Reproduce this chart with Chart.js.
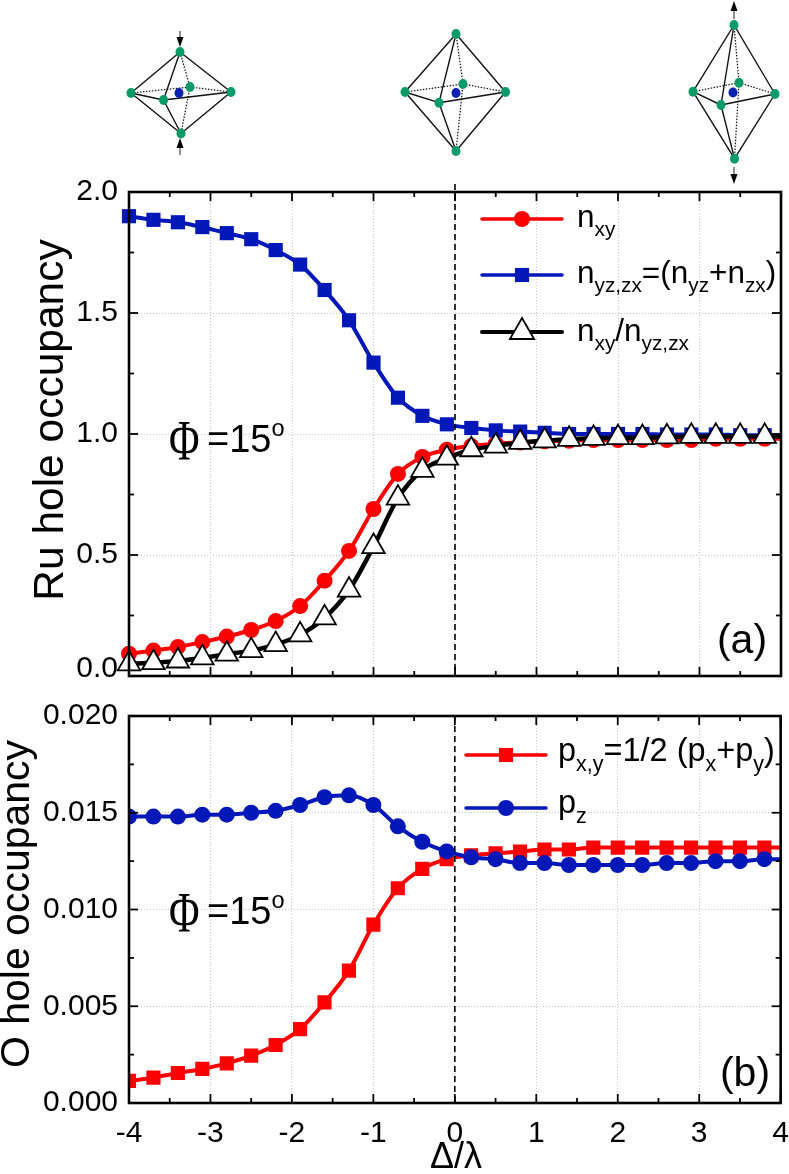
<!DOCTYPE html>
<html><head><meta charset="utf-8">
<style>
html,body{margin:0;padding:0;background:#fff;width:789px;height:1174px;overflow:hidden}
canvas{position:absolute;left:0;display:block}
svg{position:absolute;left:0;top:0;pointer-events:none}
</style>
<script src="https://cdn.jsdelivr.net/npm/chart.js@4/dist/chart.umd.js"></script>
</head><body>
<canvas id="a" width="789" height="700" style="top:0"></canvas>
<canvas id="b" width="789" height="474" style="top:700px"></canvas>
<svg id="oct" width="789" height="192"></svg>
<script>
const deltaOverLambda=[-4,-3.7,-3.4,-3.1,-2.8,-2.5,-2.2,-1.9,-1.6,-1.3,-1,-0.7,-0.4,-0.1,0.2,0.5,0.8,1.1,1.4,1.7,2,2.3,2.6,2.9,3.2,3.5,3.8,4];
const nXY=[0.092,0.105,0.12,0.14,0.163,0.19,0.227,0.289,0.394,0.517,0.69,0.835,0.905,0.935,0.95,0.96,0.965,0.97,0.972,0.975,0.975,0.975,0.975,0.975,0.98,0.98,0.98,0.98];
const nYZZX=[1.9,1.885,1.875,1.855,1.83,1.805,1.76,1.7,1.595,1.47,1.295,1.15,1.075,1.04,1.025,1.015,1.01,1.005,1.0,1.0,1.0,1.0,0.998,0.998,0.998,0.995,0.995,0.995];
const nRatio=[0.05,0.055,0.062,0.075,0.09,0.105,0.13,0.17,0.24,0.355,0.535,0.735,0.85,0.9,0.935,0.95,0.965,0.972,0.978,0.982,0.985,0.985,0.988,0.99,0.99,0.99,0.99,0.99];
const pXY=[0.00114,0.00131,0.00155,0.00176,0.00205,0.00245,0.003,0.00382,0.0052,0.00684,0.00922,0.0111,0.0121,0.0126,0.0128,0.0129,0.013,0.0131,0.0131,0.0132,0.0132,0.0132,0.0132,0.0132,0.0132,0.0132,0.0132,0.0132];
const pZ=[0.0148,0.0148,0.0148,0.0149,0.0149,0.015,0.0151,0.0154,0.0158,0.0159,0.0154,0.0143,0.0135,0.013,0.0127,0.0126,0.0124,0.0124,0.0123,0.0123,0.0123,0.0123,0.0124,0.0124,0.0125,0.0125,0.0126,0.0126];
const RED='#ff0000',BLUE='#0018b8',BLACK='#000000';
const FONT='"Liberation Sans",Arial,sans-serif';
const TICK=30;
const toPts=(ys)=>deltaOverLambda.map((x,i)=>({x,y:ys[i]}));

function runs(ctx,x,y,parts,size){
  ctx.textAlign='left';ctx.textBaseline='alphabetic';ctx.fillStyle='#000';
  for(const [t,k] of parts){
    const s=k==='sub'?size*0.66:k==='sup'?size*0.62:size;
    const dy=k==='sub'?size*0.3:k==='sup'?-size*0.42:0;
    ctx.font=s+'px '+FONT;ctx.fillText(t,x,y+dy);x+=ctx.measureText(t).width;
  }
}
function marker(ctx,kind,x,y,r,fill,stroke,lw){
  ctx.beginPath();
  if(kind==='circle')ctx.arc(x,y,r,0,Math.PI*2);
  if(kind==='rect'){const s=r/Math.SQRT2;ctx.rect(x-s,y-s,2*s,2*s);}
  if(kind==='triangle'){const w=r*Math.sin(Math.PI/3);ctx.moveTo(x,y-r);ctx.lineTo(x+w,y+r/2);ctx.lineTo(x-w,y+r/2);ctx.closePath();}
  ctx.fillStyle=fill;ctx.fill();
  if(lw){ctx.lineWidth=lw;ctx.strokeStyle=stroke;ctx.stroke();}
}
function legendRow(ctx,x0,x1,y,color,lw,kind,r,fill,stroke,mlw){
  ctx.beginPath();ctx.moveTo(x0,y);ctx.lineTo(x1,y);ctx.lineWidth=lw;ctx.strokeStyle=color;ctx.lineCap='round';ctx.stroke();ctx.lineCap='butt';
  marker(ctx,kind,(x0+x1)/2,y,r,fill,stroke,mlw);
}
function framePlugin(cfg){return {id:'frame',afterDatasetsDraw(c){
  const ctx=c.ctx,A=c.chartArea,X=c.scales.x,Y=c.scales.y;
  ctx.save();ctx.setLineDash([]);ctx.strokeStyle='#000';
  const tick=(x1,y1,x2,y2,w)=>{ctx.beginPath();ctx.moveTo(x1,y1);ctx.lineTo(x2,y2);ctx.lineWidth=w;ctx.stroke();};
  for(let v=-4;v<=4.001;v+=0.5){
    const p=X.getPixelForValue(v),L=Math.abs(v%1)<1e-6?9:5;
    tick(p,A.bottom,p,A.bottom-L,1.8);tick(p,A.top,p,A.top+L,1.8);
  }
  for(let i=0;i<=8;i++){
    const v=cfg.ymax*i/8,p=Y.getPixelForValue(v),L=i%2===0?9:5;
    tick(A.left,p,A.left+L,p,1.8);tick(A.right,p,A.right-L,p,1.8);
  }
  const zero=X.getPixelForValue(0);
  ctx.setLineDash([6,4]);tick(zero,A.top-cfg.over,zero,A.bottom,1.6);ctx.setLineDash([]);
  ctx.lineWidth=2.6;ctx.strokeRect(A.left,A.top,A.right-A.left,A.bottom-A.top);
  cfg.draw(ctx,A,X,Y);
  ctx.restore();
}};}
function ylabel(ctx,t,x,y,size){ctx.save();ctx.translate(x,y);ctx.rotate(-Math.PI/2);ctx.font=size+'px '+FONT;ctx.textAlign='center';ctx.textBaseline='alphabetic';ctx.fillStyle='#000';ctx.fillText(t,0,0);ctx.restore();}
function phi(ctx,x,y){
  ctx.save();ctx.fillStyle='#000';ctx.textAlign='left';ctx.textBaseline='alphabetic';
  ctx.translate(x+2,y+8);ctx.scale(0.72,1);
  ctx.font='58px "Liberation Serif",serif';ctx.fillText('Φ',0,0);ctx.restore();
  runs(ctx,x+40,y,[['=15',''],['o','sup']],38);
}
function base(ds,area,opts){return {type:'line',data:{datasets:ds},options:{
  responsive:false,animation:false,events:[],
  layout:{autoPadding:false,padding:{top:area.top,right:area.right,left:0,bottom:0}},
  plugins:{legend:{display:false},tooltip:{enabled:false},title:{display:false}},
  scales:{
    x:{type:'linear',min:-4,max:4,
      afterFit(s){s.height=area.xh;},
      grid:{color:'#c8c8c8',lineWidth:1,drawTicks:true,tickLength:13,tickColor:'transparent',tickWidth:0},border:{display:false,dash:[1,2]},
      ticks:{display:opts.xlabels,stepSize:1,padding:0,color:'#000',maxRotation:0,autoSkip:false,font:{family:'Liberation Sans',size:TICK}}},
    y:{type:'linear',min:0,max:opts.ymax,
      afterFit(s){s.width=129;},
      grid:{color:'#c8c8c8',lineWidth:1,drawTicks:true,tickLength:11,tickColor:'transparent',tickWidth:0},border:{display:false,dash:[1,2]},
      ticks:{stepSize:opts.step,padding:0,color:'#000',autoSkip:false,font:{family:'Liberation Sans',size:TICK,lineHeight:1},callback:opts.fmt}}
  }},plugins:[framePlugin(opts)]};}
const rad=(r)=>(ctx)=>ctx.dataIndex===deltaOverLambda.length-1?0:r;

new Chart(document.getElementById('a'),base([
  {label:'nxy',data:toPts(nXY),borderColor:RED,borderWidth:4,cubicInterpolationMode:'monotone',pointStyle:'circle',pointRadius:rad(8),pointBackgroundColor:RED,pointBorderWidth:0,order:3,clip:false},
  {label:'nyz,zx=(nyz+nzx)',data:toPts(nYZZX),borderColor:BLUE,borderWidth:4,cubicInterpolationMode:'monotone',pointStyle:'rect',pointRadius:rad(10),pointBackgroundColor:BLUE,pointBorderWidth:0,order:2,clip:false},
  {label:'nxy/nyz,zx',data:toPts(nRatio),borderColor:BLACK,borderWidth:4.5,cubicInterpolationMode:'monotone',pointStyle:'triangle',pointRadius:rad(13),pointBackgroundColor:'#fff',pointBorderColor:'#000',pointBorderWidth:1.8,order:1,clip:false}
],{top:192,right:8,xh:24},{xlabels:false,ymax:2,step:0.5,over:8,fmt:(v)=>v===0?'':v.toFixed(1),draw(ctx,A,X,Y){
  ctx.font=TICK+'px '+FONT;ctx.fillStyle='#000';ctx.textAlign='right';ctx.textBaseline='middle';
  ctx.fillText((0).toFixed(1),118,Y.getPixelForValue(0)-7);
  ylabel(ctx,'Ru hole occupancy',63,420,42.5);
  legendRow(ctx,482,562,219,RED,3.5,'circle',8,RED,RED,0);
  legendRow(ctx,482,562,275,BLUE,3.5,'rect',10,BLUE,BLUE,0);
  legendRow(ctx,482,562,332,BLACK,4,'triangle',14,'#fff','#000',1.8);
  const F=31.5;
  runs(ctx,577,227,[['n',''],['xy','sub']],F);
  runs(ctx,577,283,[['n',''],['yz,zx','sub'],['=(n',''],['yz','sub'],['+n',''],['zx','sub'],[')','']],F);
  runs(ctx,577,341,[['n',''],['xy','sub'],['/n',''],['yz,zx','sub']],F);
  phi(ctx,167,452);
  ctx.font='41px '+FONT;ctx.textAlign='center';ctx.textBaseline='middle';ctx.fillStyle='#000';ctx.fillText('(a)',742,642);
}}));

new Chart(document.getElementById('b'),base([
  {label:'px,y=1/2 (px+py)',data:toPts(pXY),borderColor:RED,borderWidth:4,cubicInterpolationMode:'monotone',pointStyle:'rect',pointRadius:rad(10),pointBackgroundColor:RED,pointBorderWidth:0,order:2},
  {label:'pz',data:toPts(pZ),borderColor:BLUE,borderWidth:4,cubicInterpolationMode:'monotone',pointStyle:'circle',pointRadius:rad(8),pointBackgroundColor:BLUE,pointBorderWidth:0,order:1}
],{top:16,right:8,xh:71},{xlabels:true,ymax:0.02,step:0.005,over:0,fmt:(v)=>v.toFixed(3),draw(ctx,A,X,Y){
  ylabel(ctx,'O hole occupancy',28.5,204,41);
  legendRow(ctx,466,546,55,RED,3.5,'rect',10,RED,RED,0);
  legendRow(ctx,466,546,108,BLUE,3.5,'circle',8,BLUE,BLUE,0);
  const F=32.5;
  runs(ctx,558,61,[['p',''],['x,y','sub'],['=1/2 (p',''],['x','sub'],['+p',''],['y','sub'],[')','']],F);
  runs(ctx,558,113,[['p',''],['z','sub']],F);
  phi(ctx,167,224);
  ctx.font='41px '+FONT;ctx.textAlign='center';ctx.textBaseline='middle';ctx.fillStyle='#000';ctx.fillText('(b)',745,375);
  ctx.font='36px '+FONT;ctx.textAlign='center';ctx.textBaseline='middle';ctx.fillText('Δ/λ',456,458);
}}));

const octahedra=[
 {t:[180,52],b:[181,133.5],l:[131,93],r:[231,92],f:[163.5,100],k:[190,87],c:[179,93]},
 {t:[456,34],b:[456,151],l:[405,92],r:[505.5,92],f:[439,102.7],k:[463,84],c:[456,93]},
 {t:[734,25],b:[734.5,158.7],l:[693,91.7],r:[775,94],f:[721,105],k:[739,82.7],c:[733,92.5]}
];
const arrows=[[180,31,180,47],[180,155,180,138],[734,19,734,1],[734,167,734,184]];
let s='';
const line=(a,b,dot)=>`<line x1="${a[0]}" y1="${a[1]}" x2="${b[0]}" y2="${b[1]}" stroke="#111" stroke-width="${dot?1.2:1.4}"${dot?' stroke-dasharray="1.5 1.5"':''}/>`;
for(const o of octahedra){
  for(const [a,b] of [['t','l'],['t','r'],['t','f'],['b','l'],['b','r'],['b','f'],['l','f'],['f','r']])s+=line(o[a],o[b]);
  for(const [a,b] of [['l','k'],['k','r'],['t','k'],['k','b']])s+=line(o[a],o[b],true);
  s+=`<ellipse cx="${o.c[0]}" cy="${o.c[1]}" rx="4.5" ry="5" fill="#0a22b0"/>`;
  for(const k of 'tblrfk')s+=`<ellipse cx="${o[k][0]}" cy="${o[k][1]}" rx="4.5" ry="5" fill="#0a9b68"/>`;
}
for(const [x1,y1,x2,y2] of arrows){
  const d=y2>y1?1:-1;
  s+=`<line x1="${x1}" y1="${y1}" x2="${x2}" y2="${y2-d*8}" stroke="#222" stroke-width="1"/>`;
  s+=`<polygon points="${x2},${y2} ${x2-3.5},${y2-d*10} ${x2+3.5},${y2-d*10}" fill="#000"/>`;
}
document.getElementById('oct').innerHTML=s;
</script>
</body></html>
